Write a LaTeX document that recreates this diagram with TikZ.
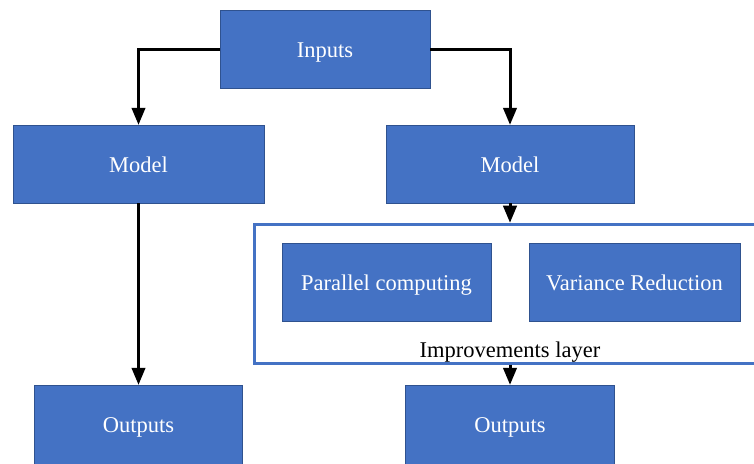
\documentclass[tikz,border=0pt]{standalone}
\usepackage{fontspec}
\setmainfont{Liberation Serif}
\usepackage{tikz}
\usetikzlibrary{arrows}

\definecolor{boxblue}{HTML}{4472C4}
\definecolor{boxedge}{HTML}{2F528F}

\begin{document}
\begin{tikzpicture}
[x=1pt,y=-1pt,>=triangle 45,
block/.style={rectangle,draw=boxedge,line width=0.8pt,fill=boxblue,text=white,
  font=\fontsize{22.5}{27}\selectfont,text height=17pt,text depth=0pt,
  minimum height=78pt,inner sep=0pt},
link/.style={->,line width=3pt},
layerbox/.style={rectangle,draw=boxblue,line width=3pt,fill=white,inner sep=0pt}]
\useasboundingbox (0,0) rectangle (754,463);
\clip (0,0) rectangle (754,463);

% frame of the improvements layer goes first, under everything else
\node[layerbox,minimum width=530pt,minimum height=139pt] at (519,293.5) (layer) {};

\node[block,minimum width=210pt] at (325,49)    (inp)  {Inputs};
\node[block,minimum width=251pt] at (138.5,164) (modl) {Model};
\node[block,minimum width=248pt] at (510,164)   (modr) {Model};
\node[block,minimum width=209pt] at (386.5,282) (par)  {Parallel computing};
\node[block,minimum width=211pt] at (634.5,282) (var)  {Variance Reduction};
% bottom row runs off the lower edge
\node[block,minimum width=208pt,minimum height=86pt] at (138.5,428) (outl) {};
\node[block,minimum width=209pt,minimum height=86pt] at (510,428)   (outr) {};
\node[block,draw=none,fill=none] at (138.5,424) (outltxt) {Outputs};
\node[block,draw=none,fill=none] at (510,424)   (outrtxt) {Outputs};
\node[font=\fontsize{22.5}{27}\selectfont,text height=17pt,text depth=0pt]
  at (510,349) (lbl) {Improvements layer};

\draw [link] (inp.west) -| (modl.north);
\draw [link] (inp.east) -| (modr.north);
\draw [link] (modl.south) -- (outl.north);
\draw [link] (modr.south) -- (modr.south |- layer.north);
\draw [link] (modr.south |- layer.south) -- (outr.north);
\end{tikzpicture}
\end{document}
